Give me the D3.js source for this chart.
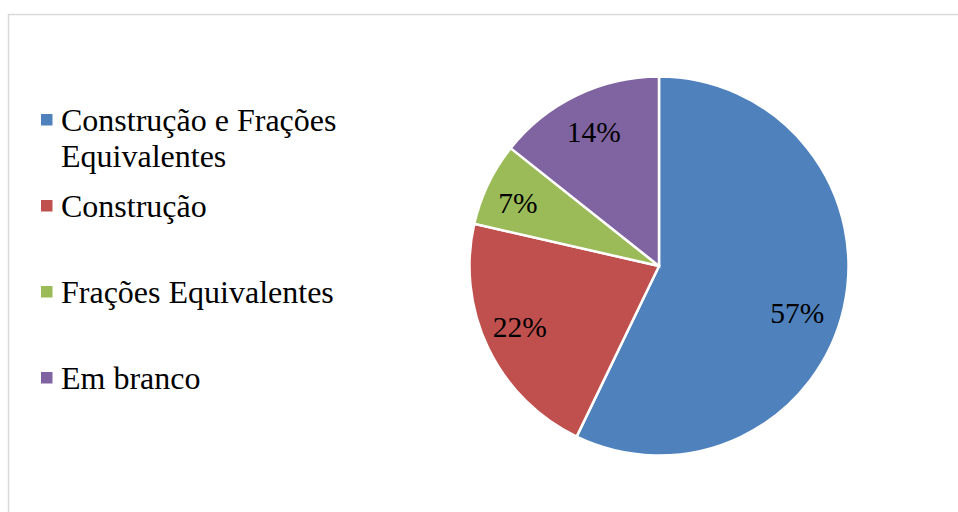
<!DOCTYPE html>
<html>
<head>
<meta charset="utf-8">
<script src="https://cdn.jsdelivr.net/npm/d3@7"></script>
<style>
  html, body { margin: 0; padding: 0; background: #fff; }
  svg { display: block; }
</style>
</head>
<body>
<svg id="chart" width="958" height="512"></svg>
<script>
const categories = ["Construção e Frações Equivalentes", "Construção", "Frações Equivalentes", "Em branco"];
const legendLines = [["Construção e Frações", "Equivalentes"], ["Construção"], ["Frações Equivalentes"], ["Em branco"]];
const values = [57.1, 21.4, 7.1, 14.3];
const labels = ["57%", "22%", "7%", "14%"];
const colors = ["#4F81BD", "#C0504D", "#9BBB59", "#8064A2"];

const svg = d3.select("#chart");
const font = "'Liberation Serif', 'Times New Roman', serif";

// chart frame
svg.append("rect")
  .attr("x", 8.5).attr("y", 14.5)
  .attr("width", 1000).attr("height", 600)
  .attr("fill", "#fff")
  .attr("stroke", "#d9d9d9")
  .attr("stroke-width", 1.5);

const cx = 659, cy = 266, r = 189.5;
const g = svg.append("g").attr("transform", `translate(${cx},${cy})`);

const pie = d3.pie().sort(null).value(d => d)(values);
const arc = d3.arc().innerRadius(0).outerRadius(r);
const labelArc = d3.arc().innerRadius(150).outerRadius(150);
// "best fit" nudges for the data labels (layout only)
const labelNudge = [[-8, 13], [-4, -4], [-6, 2], [0, 1]];

g.selectAll("path.slice")
  .data(pie)
  .join("path")
  .attr("class", "slice")
  .attr("d", arc)
  .attr("fill", (d, i) => colors[i])
  .attr("stroke", "#fff")
  .attr("stroke-width", 2.5)
  .attr("stroke-linejoin", "miter");

g.selectAll("text.lbl")
  .data(pie)
  .join("text")
  .attr("class", "lbl")
  .attr("transform", (d, i) => {
    const c = labelArc.centroid(d);
    return `translate(${c[0] + labelNudge[i][0]},${c[1] + labelNudge[i][1]})`;
  })
  .attr("text-anchor", "middle")
  .attr("dy", "0.35em")
  .attr("font-family", font)
  .attr("font-size", 29.5)
  .attr("fill", "#000")
  .text((d, i) => labels[i]);

// legend
const legendY = d3.scaleLinear().domain([0, 1]).range([131, 217]);
const leg = svg.append("g");
categories.forEach((c, i) => {
  const y = legendY(i);
  const item = leg.append("g");
  item.append("rect")
    .attr("x", 41).attr("y", y - 17)
    .attr("width", 11.5).attr("height", 11.5)
    .attr("fill", colors[i]);
  const t = item.append("text")
    .attr("x", 61).attr("y", y)
    .attr("font-family", font)
    .attr("font-size", 32)
    .attr("fill", "#000");
  legendLines[i].forEach((line, j) => {
    t.append("tspan").attr("x", 61).attr("y", y + j * 36).text(line);
  });
});
</script>
</body>
</html>
